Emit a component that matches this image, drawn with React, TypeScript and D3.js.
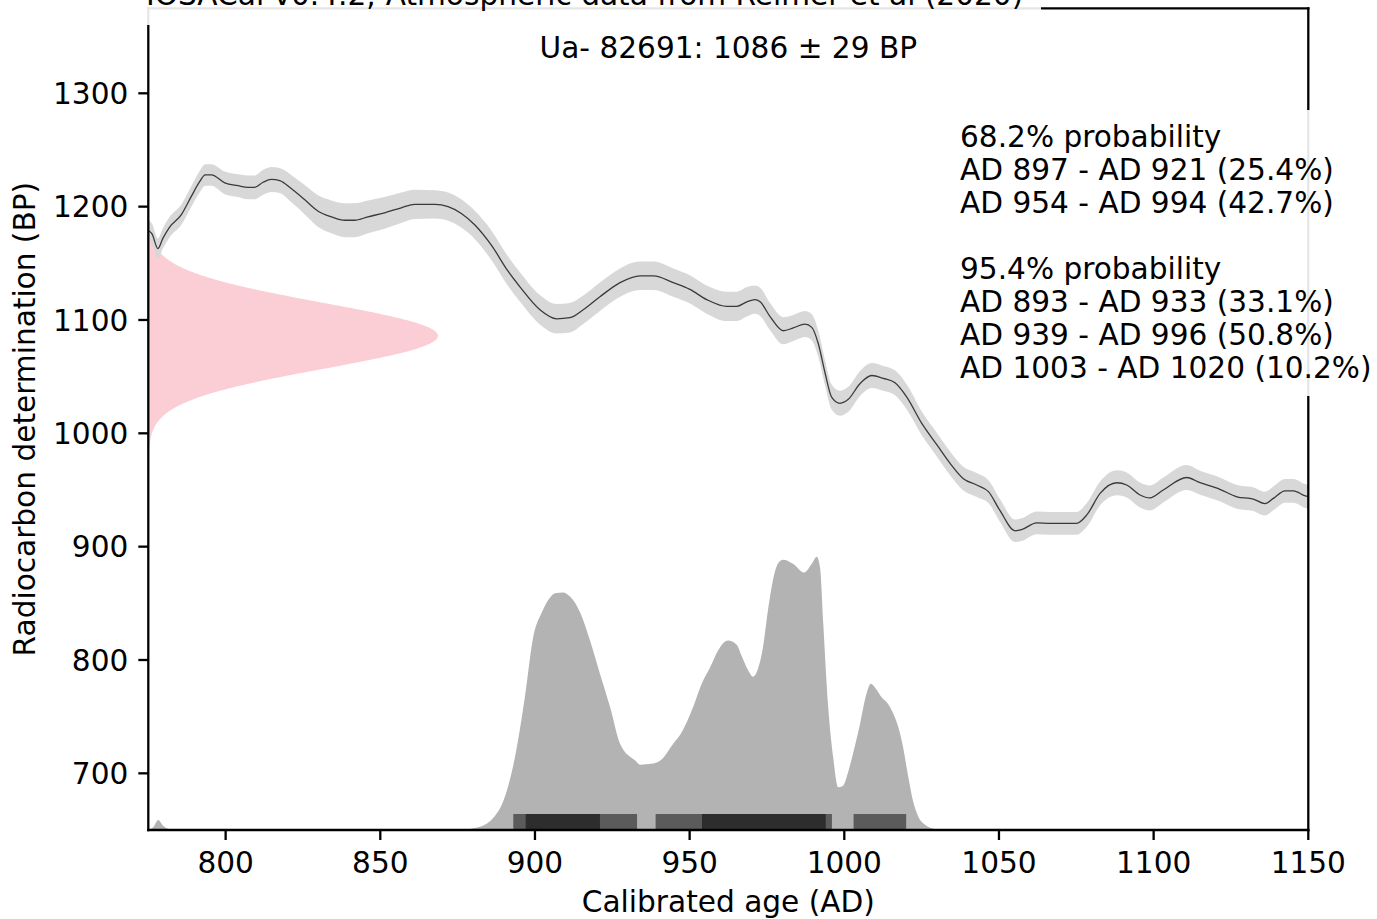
import React from "react";
import * as d3 from "d3";

// ---------- data ----------
const curveYear = [775, 776.2, 778.1, 779.7, 781.9, 785.7, 788.9, 791.6, 793.4, 795.4, 799.7, 804.0, 807.2, 809.4, 812.1, 814.8, 817.5, 821.2, 825.6, 829.9, 834.2, 838.5, 841.7, 846.0, 851.4, 856.8, 861.1, 867.6, 871.9, 876.2, 880.5, 885.9, 891.3, 895.2, 901.6, 907.0, 911.3, 915.6, 921.0, 927.5, 934.0, 938.3, 944.7, 950.1, 955.5, 962.0, 965.2, 968.5, 971.1, 972.8, 976.0, 980.3, 983.5, 987.3, 989.5, 991.6, 993.8, 995.9, 998.6, 1001.3, 1005.1, 1008.9, 1012.6, 1016.4, 1020.2, 1025.0, 1029.9, 1034.2, 1038.5, 1042.8, 1046.6, 1050.3, 1055.2, 1057.3, 1062.2, 1066.5, 1075.1, 1078.4, 1082.7, 1088.1, 1091.3, 1095.6, 1098.8, 1103.1, 1110.7, 1115.0, 1121.4, 1126.9, 1132.2, 1136.0, 1138.7, 1142.5, 1145.2, 1149.0, 1150];
const curveBP = [1179, 1176, 1163, 1172, 1182, 1193, 1209, 1222, 1228, 1228, 1221, 1218.5, 1217, 1217, 1221.5, 1224, 1223, 1216, 1206, 1196, 1191, 1188, 1188, 1191, 1194.6, 1199, 1202, 1202, 1200, 1194, 1184, 1166, 1143, 1129, 1109, 1101, 1102, 1109, 1120.5, 1133, 1139, 1139, 1133, 1127, 1118, 1112, 1112, 1116, 1118, 1116, 1103, 1090.5, 1093, 1096.4, 1093.5, 1079, 1053, 1032, 1026.5, 1030, 1044, 1051, 1048.5, 1044.6, 1032, 1009, 990, 973.5, 960, 954.4, 948.5, 932, 914, 915, 921, 920.6, 920.6, 928, 947, 956.4, 954.4, 945.6, 943, 950, 961, 956.4, 950.6, 944, 942, 938, 942.6, 949.3, 949.3, 944.7, 944];
const curveSigma = [9, 9, 9, 9, 9, 9, 9, 9.5, 9.5, 9.5, 10, 10, 10.5, 10.5, 11, 11, 11, 12, 13, 14, 14.5, 15, 15, 14.5, 14, 13.5, 13, 12.5, 12.5, 12.5, 12.5, 13, 13, 13, 13, 13, 13, 12.5, 12.5, 12.5, 12.5, 12.5, 12.5, 12.5, 12.5, 13, 13, 13, 12.5, 12.5, 12, 12, 11.5, 11.5, 11.5, 11.5, 11, 11, 11, 11, 11, 11, 11, 11, 11, 10.5, 10.5, 10.5, 10.5, 10.5, 10, 10, 10, 10, 10, 10, 10, 10.5, 10.5, 11, 11, 11, 11, 11, 11, 10.5, 10.5, 10.5, 10.5, 10.5, 10.5, 10.5, 10.5, 10.5, 10.5];

const densityYear = [775.0, 776.6, 778.2, 779.8, 783.1, 875.8, 880.6, 883.8, 887.1, 889.4, 890.9, 892.6, 894.5, 896.8, 899.4, 902.2, 904.9, 906.5, 909.1, 911.3, 914.6, 917.8, 921.0, 924.3, 927.5, 932.4, 934.0, 938.2, 940.5, 944.7, 947.4, 951.1, 953.9, 956.6, 959.8, 962.4, 965.2, 966.8, 969.0, 970.5, 972.1, 973.7, 975.3, 976.9, 978.5, 980.2, 983.4, 987.0, 989.5, 991.1, 992.2, 993.2, 994.8, 996.4, 998.0, 999.6, 1001.2, 1002.8, 1005.1, 1007.0, 1008.6, 1010.2, 1012.2, 1014.1, 1015.7, 1017.3, 1018.9, 1020.6, 1022.2, 1023.8, 1026.1, 1029.3, 1032.5, 1150];
const densityValue = [0, 0.01, 0.037, 0.016, 0, 0, 0.007, 0.019, 0.052, 0.096, 0.144, 0.217, 0.327, 0.491, 0.704, 0.796, 0.851, 0.866, 0.869, 0.854, 0.796, 0.693, 0.572, 0.449, 0.316, 0.254, 0.239, 0.243, 0.254, 0.316, 0.357, 0.449, 0.535, 0.595, 0.668, 0.693, 0.678, 0.638, 0.583, 0.561, 0.590, 0.668, 0.802, 0.912, 0.974, 0.989, 0.974, 0.942, 0.974, 1.0, 0.956, 0.755, 0.449, 0.266, 0.156, 0.162, 0.210, 0.279, 0.389, 0.491, 0.535, 0.517, 0.484, 0.462, 0.429, 0.382, 0.309, 0.199, 0.107, 0.052, 0.019, 0.003, 0, 0];

const range95Start = [893, 939, 1003];
const range95End = [933, 996, 1020];
const range68Start = [897, 954];
const range68End = [921, 994];

const xTicks = [800, 850, 900, 950, 1000, 1050, 1100, 1150];
const yTicks = [700, 800, 900, 1000, 1100, 1200, 1300];

const BP_MEAN = 1086;
const BP_SD = 29;
const sampleLabel = "Ua- 82691: 1086 ± 29 BP";
const titleLabel = "IOSACal v0.4.2; Atmospheric data from Reimer et al (2020)";
const summaryLines = [
  "68.2% probability",
  "AD 897 - AD 921 (25.4%)",
  "AD 954 - AD 994 (42.7%)",
  "",
  "95.4% probability",
  "AD 893 - AD 933 (33.1%)",
  "AD 939 - AD 996 (50.8%)",
  "AD 1003 - AD 1020 (10.2%)",
];
const xLabel = "Calibrated age (AD)";
const yLabel = "Radiocarbon determination (BP)";

// ---------- layout ----------
const W = 1377;
const H = 919;
const L = 148.3, R = 1308.3, T = 8.3, B = 830;
const FONT = "'DejaVu Sans', sans-serif";
const FS = 29.6;

export default function App() {
  const x = d3.scaleLinear().domain([775, 1150]).range([L, R]);
  const y = d3.scaleLinear().domain([650, 1375]).range([B, T]);

  const curve = curveYear.map((yr, i) => ({ yr, bp: curveBP[i], s: curveSigma[i] }));
  const band = d3.area<any>().curve(d3.curveMonotoneX).x((d) => x(d.yr)).y0((d) => y(d.bp - d.s)).y1((d) => y(d.bp + d.s))(curve) || "";
  const line = d3.line<any>().curve(d3.curveMonotoneX).x((d) => x(d.yr)).y((d) => y(d.bp))(curve) || "";

  const dScale = d3.scaleLinear().domain([0, 1]).range([y(650), y(650) - 273.3]);
  const dens = densityYear.map((yr, i) => ({ yr, v: densityValue[i] }));
  const densPath = d3.area<any>().curve(d3.curveMonotoneX).x((d) => x(d.yr)).y0(dScale(0)).y1((d) => dScale(d.v))(dens) || "";

  // normal distribution of the radiocarbon determination
  const gScale = d3.scaleLinear().domain([0, 1]).range([L, L + 289.7]);
  const bpSamples = d3.range(BP_MEAN - 4.5 * BP_SD, BP_MEAN + 4.5 * BP_SD + 0.01, 1);
  const gauss = bpSamples.map((bp) => ({ bp, g: Math.exp(-0.5 * ((bp - BP_MEAN) / BP_SD) ** 2) }));
  const pinkPath = d3.area<any>().y((d) => y(d.bp)).x0(gScale(0)).x1((d) => gScale(d.g))(gauss) || "";

  const barTop = y(650) - 16;
  const barH = 16;

  return (
    <div style={{ position: "fixed", left: 0, top: 0 }}>
      <svg width={W} height={H} style={{ display: "block", background: "#fff" }} fontFamily={FONT}>
        <defs>
          <clipPath id="plot">
            <rect x={L} y={T} width={R - L} height={B - T} />
          </clipPath>
        </defs>
        <g clipPath="url(#plot)">
          <path d={pinkPath} fill="#fbcdd5" />
          <path d={band} fill="#d6d6d6" opacity={0.95} />
          <path d={line} fill="none" stroke="#3a3a3a" strokeWidth={1.3} />
          <path d={densPath} fill="#b3b3b3" />
          {range95Start.map((s, i) => (
            <rect key={"r95" + i} x={x(s)} y={barTop} width={x(range95End[i]) - x(s)} height={barH} fill="#5b5b5b" />
          ))}
          {range68Start.map((s, i) => (
            <rect key={"r68" + i} x={x(s)} y={barTop} width={x(range68End[i]) - x(s)} height={barH} fill="#2d2d2d" />
          ))}
        </g>

        {/* spines */}
        <g stroke="#000" strokeWidth={2.3} fill="none" strokeLinecap="square">
          <line x1={L} y1={T} x2={L} y2={B} />
          <line x1={L} y1={B} x2={R} y2={B} />
          <line x1={R} y1={T} x2={R} y2={B} />
          <line x1={L} y1={T} x2={R} y2={T} />
        </g>

        {/* ticks */}
        <g stroke="#000" strokeWidth={2.3}>
          {xTicks.map((t) => (
            <line key={"xt" + t} x1={x(t)} x2={x(t)} y1={B} y2={B + 10} />
          ))}
          {yTicks.map((t) => (
            <line key={"yt" + t} x1={L - 10} x2={L} y1={y(t)} y2={y(t)} />
          ))}
        </g>
        <g fontSize={FS} fill="#000">
          {xTicks.map((t) => (
            <text key={"xl" + t} x={x(t)} y={873.3} textAnchor="middle">{t}</text>
          ))}
          {yTicks.map((t) => (
            <text key={"yl" + t} x={128.3} y={y(t) + 10.8} textAnchor="end">{t}</text>
          ))}
        </g>

        <text x={(L + R) / 2} y={911.5} textAnchor="middle" fontSize={FS}>{xLabel}</text>
        <text transform={`translate(35,${(T + B) / 2}) rotate(-90)`} textAnchor="middle" fontSize={FS}>{yLabel}</text>

        {/* sample label */}
        <text x={(L + R) / 2} y={57.5} textAnchor="middle" fontSize={FS}>{sampleLabel}</text>

        {/* title box (cut off at top of the figure, as in the reference) */}
        <rect x={134} y={-40} width={1041 - 134} height={65} fill="#fff" opacity={0.9} />
        <text x={146} y={5} fontSize={FS}>{titleLabel}</text>

        {/* summary box */}
        <rect x={950} y={110} width={440} height={286} fill="#fff" opacity={0.9} />
        <g fontSize={FS}>
          {summaryLines.map((s, i) => (
            <text key={"s" + i} x={960} y={146.5 + i * 33.1}>{s}</text>
          ))}
        </g>
      </svg>
    </div>
  );
}
